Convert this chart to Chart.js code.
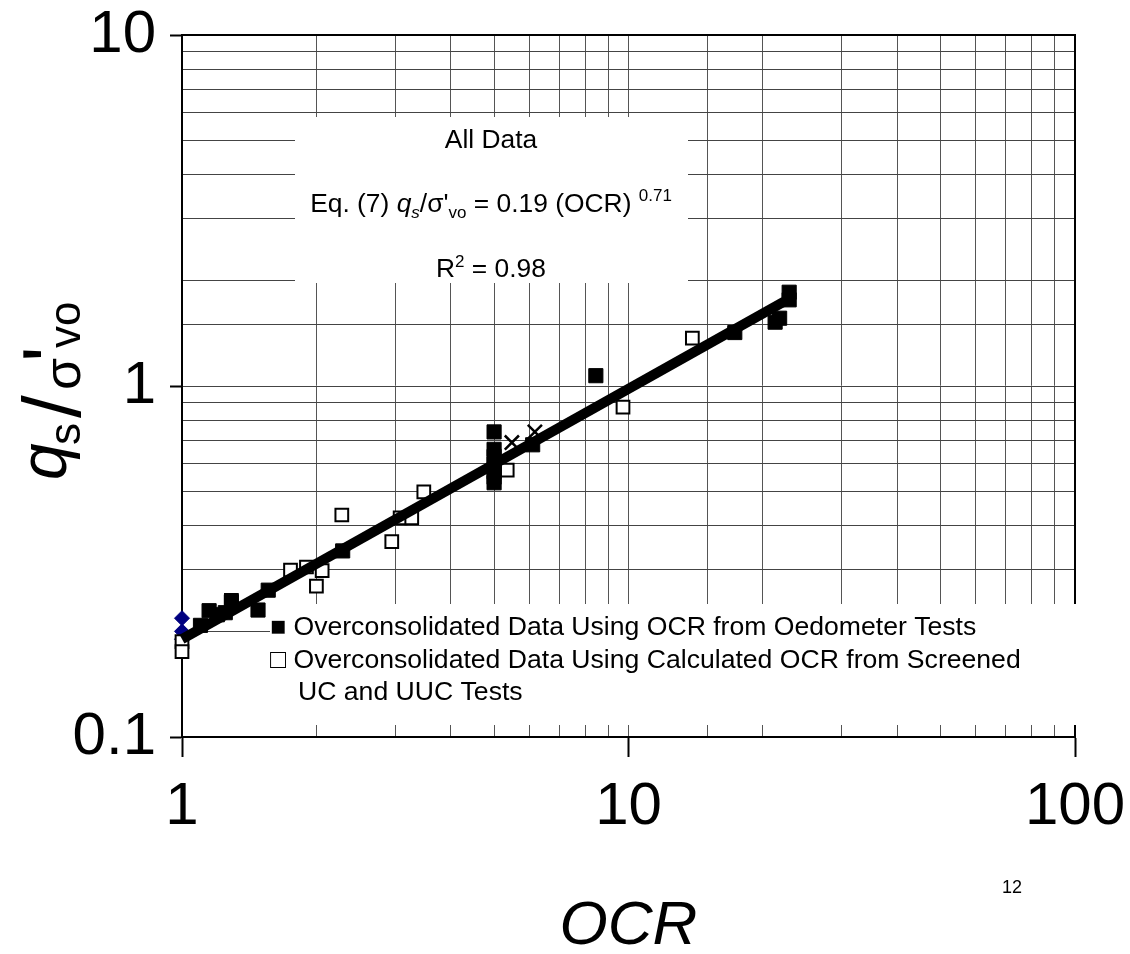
<!DOCTYPE html>
<html><head><meta charset="utf-8">
<script src="https://cdn.jsdelivr.net/npm/chart.js@4.4.0/dist/chart.umd.min.js"></script>
<style>html,body{margin:0;padding:0;background:#fff}#wrap{width:1130px;height:954px;position:relative}</style>
</head><body><div id="wrap"><canvas id="c" width="1130" height="954"></canvas></div>
<script>
// ---- data ----
const xTickLabels = ['1', '10', '100'];
const yTickLabels = ['0.1', '1', '10'];

// Overconsolidated data, OCR from oedometer tests (filled squares)
const ocrOedometer   = [1.10, 1.15, 1.20, 1.25, 1.29, 1.48, 1.56, 2.29, 5.0, 5.0, 5.0, 5.0, 5.0, 5.0, 5.0, 6.1, 8.45, 17.3, 21.3, 21.8, 22.9, 22.9];
const ratioOedometer = [0.208, 0.229, 0.223, 0.226, 0.243, 0.230, 0.262, 0.339, 0.74, 0.66, 0.63, 0.60, 0.57, 0.55, 0.53, 0.68, 1.07, 1.42, 1.52, 1.56, 1.85, 1.76];

// Overconsolidated data, calculated OCR from screened UC and UUC tests (open squares)
const ocrCalculated   = [1.0, 1.0, 1.29, 1.75, 1.90, 2.00, 2.06, 2.28, 2.95, 3.08, 3.27, 3.48, 5.35, 9.72, 13.9];
const ratioCalculated = [0.187, 0.175, 0.245, 0.299, 0.305, 0.269, 0.298, 0.429, 0.360, 0.421, 0.421, 0.499, 0.576, 0.871, 1.37];

// Normally consolidated points (blue diamonds)
const ocrNormal   = [1.0, 1.0, 1.0];
const ratioNormal = [0.218, 0.200, 0.190];

// Other points (x markers)
const ocrCross   = [5.48, 6.17];
const ratioCross = [0.69, 0.74];

// Fitted line end points, Eq. (7)
const ocrFit   = [1.0, 22.3];
const ratioFit = [0.19, 1.74];

const FONT = "'Liberation Sans', Arial, sans-serif";
const pts = (xs, ys) => xs.map((x, i) => ({x, y: ys[i]}));
const isDecade = v => { const l = Math.log10(v); return Math.abs(l - Math.round(l)) < 1e-9; };
const labelFor = (list, v) => { const f = list.find(s => Math.abs(parseFloat(s) - v) < 1e-9 * Math.max(1, v)); return f === undefined ? '' : f; };

const overlay = {
  id: 'overlay',
  beforeDatasetsDraw(chart) {
    const ctx = chart.ctx, a = chart.chartArea;
    ctx.save();
    ctx.strokeStyle = '#000'; ctx.lineWidth = 2;
    ctx.beginPath();
    ctx.moveTo(a.left, a.top); ctx.lineTo(a.right, a.top); ctx.lineTo(a.right, a.bottom);
    ctx.stroke();
    ctx.fillStyle = '#fff';
    ctx.fillRect(295, 117, 393, 166);
    ctx.fillRect(270, 604, 812, 121);
    ctx.restore();
  },
  afterDraw(chart) {
    const ctx = chart.ctx;
    ctx.save();
    ctx.fillStyle = '#000';
    ctx.textBaseline = 'alphabetic';
    ctx.textAlign = 'center';
    ctx.font = `26.4px ${FONT}`;
    ctx.fillText('All Data', 491, 148);
    const eq = [
      {t: 'Eq. (7) ', f: `26.4px ${FONT}`, dy: 0},
      {t: 'q', f: `italic 26.4px ${FONT}`, dy: 0},
      {t: 's', f: `italic 17px ${FONT}`, dy: 6},
      {t: '/σ\'', f: `26.4px ${FONT}`, dy: 0},
      {t: 'vo', f: `17px ${FONT}`, dy: 6},
      {t: ' = 0.19 (OCR) ', f: `26.4px ${FONT}`, dy: 0},
      {t: '0.71', f: `17px ${FONT}`, dy: -11}
    ];
    drawRich(ctx, eq, 491, 212);
    const r2 = [
      {t: 'R', f: `26.4px ${FONT}`, dy: 0},
      {t: '2', f: `17px ${FONT}`, dy: -10},
      {t: ' = 0.98', f: `26.4px ${FONT}`, dy: 0}
    ];
    drawRich(ctx, r2, 491, 277);
    ctx.textAlign = 'left';
    ctx.font = `26.6px ${FONT}`;
    ctx.fillText('\u25A0 Overconsolidated Data Using OCR from Oedometer Tests', 270, 635);
    ctx.fillText('\u25A1 Overconsolidated Data Using Calculated OCR from Screened', 270, 668);
    ctx.fillText('UC and UUC Tests', 298, 700);
    ctx.textAlign = 'center';
    ctx.font = `18px ${FONT}`;
    ctx.fillText('12', 1012, 893);
    ctx.translate(80, 480);
    ctx.rotate(-Math.PI / 2);
    ctx.textAlign = 'left';
    const yt = [
      {t: 'q', f: `italic 66px ${FONT}`, x: 0, dy: -14},
      {t: 's', f: `44px ${FONT}`, x: 35, dy: 0},
      {t: '/', f: `82px ${FONT}`, x: 62, dy: 0},
      {t: 'σ', f: `52px ${FONT}`, x: 90, dy: 0},
      {t: '\'', f: `82px ${FONT}`, x: 118, dy: 0},
      {t: 'vo', f: `44px ${FONT}`, x: 132, dy: 0}
    ];
    yt.forEach(p => { ctx.font = p.f; ctx.fillText(p.t, p.x, p.dy); });
    ctx.restore();
  }
};

function drawRich(ctx, parts, cx, baseY) {
  let w = 0;
  parts.forEach(p => { ctx.font = p.f; p.w = ctx.measureText(p.t).width; w += p.w; });
  let x = cx - w / 2;
  ctx.textAlign = 'left';
  parts.forEach(p => { ctx.font = p.f; ctx.fillText(p.t, x, baseY + p.dy); x += p.w; });
}

function zeroPad(s) { s.paddingLeft = 0; s.paddingRight = 0; s.paddingTop = 0; s.paddingBottom = 0; }

new Chart(document.getElementById('c'), {
  type: 'scatter',
  data: {
    datasets: [
      {
        label: 'Overconsolidated Data Using OCR from Oedometer Tests',
        data: pts(ocrOedometer, ratioOedometer),
        pointStyle: 'rect', pointRadius: 10, pointHoverRadius: 10,
        backgroundColor: '#000', borderColor: '#000', borderWidth: 1,
        order: 1, clip: false
      },
      {
        label: 'Eq. (7)',
        type: 'line',
        data: pts(ocrFit, ratioFit),
        showLine: true, pointRadius: 0, borderColor: '#000', borderWidth: 10,
        borderCapStyle: 'butt', fill: false, order: 2, clip: false
      },
      {
        label: 'Overconsolidated Data Using Calculated OCR from Screened UC and UUC Tests',
        data: pts(ocrCalculated, ratioCalculated),
        pointStyle: 'rect', pointRadius: 9, pointHoverRadius: 9,
        backgroundColor: '#fff', borderColor: '#000', borderWidth: 2,
        order: 3, clip: false
      },
      {
        label: 'Normally consolidated',
        data: pts(ocrNormal, ratioNormal),
        pointStyle: 'rectRot', pointRadius: 7.5, pointHoverRadius: 7.5,
        backgroundColor: '#000080', borderColor: '#000080', borderWidth: 1,
        order: 4, clip: false
      },
      {
        label: 'Other',
        data: pts(ocrCross, ratioCross),
        pointStyle: 'crossRot', pointRadius: 10, pointHoverRadius: 10,
        backgroundColor: '#000', borderColor: '#000', borderWidth: 2.5,
        order: 5, clip: false
      }
    ]
  },
  options: {
    responsive: false,
    animation: false,
    events: [],
    layout: {padding: {top: 35, right: 55, bottom: 0, left: 0}},
    plugins: {legend: {display: false}, tooltip: {enabled: false}},
    scales: {
      x: {
        type: 'logarithmic', position: 'bottom', min: 1, max: 100,
        afterFit: s => { s.height = 217; zeroPad(s); },
        ticks: {
          autoSkip: false, maxRotation: 0, minRotation: 0, padding: 20, color: '#000',
          font: {family: FONT, size: 60, lineHeight: 1},
          callback: v => labelFor(xTickLabels, v)
        },
        grid: {
          color: '#555', lineWidth: 1, drawTicks: true, tickLength: 20,
          tickColor: c => (c.tick && isDecade(c.tick.value)) ? '#000' : 'rgba(0,0,0,0)',
          tickWidth: 2
        },
        border: {display: true, color: '#000', width: 2},
        title: {display: true, text: 'OCR', color: '#000', padding: {top: 0, bottom: -4},
                font: {family: FONT, size: 62, style: 'italic', lineHeight: 1}}
      },
      y: {
        type: 'logarithmic', position: 'left', min: 0.1, max: 10,
        afterFit: s => { s.width = 182; zeroPad(s); },
        ticks: {
          autoSkip: false, padding: 14, color: '#000',
          font: {family: FONT, size: 60, lineHeight: 1},
          callback: v => labelFor(yTickLabels, v)
        },
        grid: {
          color: '#444', lineWidth: 1, drawTicks: true, tickLength: 12,
          tickColor: c => (c.tick && isDecade(c.tick.value)) ? '#000' : 'rgba(0,0,0,0)',
          tickWidth: 2
        },
        border: {display: true, color: '#000', width: 2}
      }
    }
  },
  plugins: [overlay]
});
</script>
</body></html>
